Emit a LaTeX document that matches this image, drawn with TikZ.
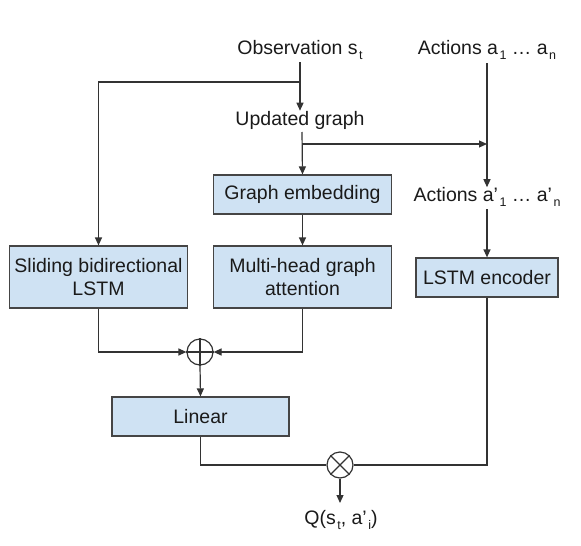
\documentclass[tikz,border=0pt]{standalone}
\usepackage{fontspec}
\setmainfont{Liberation Sans}
\usetikzlibrary{arrows.meta}
\definecolor{boxfill}{HTML}{CFE2F3}
\definecolor{boxline}{HTML}{454545}
\definecolor{linecol}{HTML}{333333}
\definecolor{txt}{HTML}{1A1A1A}
\newcommand{\lowsub}[1]{\kern1.5pt\raisebox{-5pt}{\fontsize{12.5}{12.5}\selectfont #1}}
\begin{document}
\begin{tikzpicture}[x=1pt,y=-1pt,
  every node/.style={font=\fontsize{19.5}{23.5}\selectfont, text=txt},
  blk/.style={draw=boxline, line width=1.2pt, fill=boxfill, align=center, inner sep=0pt},
  lbl/.style={inner sep=0pt, align=center},
  op/.style={circle, draw=linecol, line width=1.2pt, minimum size=26pt, inner sep=0pt, fill=white},
  conn/.style={draw=linecol, line width=1.2pt},
  arr/.style={conn, -{Triangle[length=8pt,width=7pt]}}
]
\useasboundingbox (0,0) rectangle (581,546);

% text labels
\node[lbl] (obs) at (300,50) {Observation s\lowsub{t}};
\node[lbl] (act) at (487,50) {Actions a\lowsub{1} … a\lowsub{n}};
\node[lbl] (upd) at (300,120) {Updated graph};
\node[lbl] (act2) at (487,197) {Actions a’\lowsub{1} … a’\lowsub{n}};
\node[lbl] (q) at (341,520) {Q(s\lowsub{t}, a’\lowsub{i})};

% boxes
\node[blk, minimum width=178pt, minimum height=39pt] (gemb) at (302.5,194.5) {Graph embedding};
\node[blk, minimum width=178pt, minimum height=62pt] (slide) at (98.5,277) {Sliding bidirectional\\LSTM};
\node[blk, minimum width=178pt, minimum height=62pt] (mha) at (302.5,277) {Multi-head graph\\attention};
\node[blk, minimum width=142pt, minimum height=39pt] (lstm) at (487,277.5) {LSTM encoder};
\node[blk, minimum width=177pt, minimum height=39pt] (lin) at (200.5,416.5) {Linear};

% operators
\node[op] (plus) at (200,352) {};
\draw[conn] (plus.north) -- (plus.south) (plus.west) -- (plus.east);
\node[op] (times) at (340,465) {};
\draw[conn] (times.north west) -- (times.south east) (times.north east) -- (times.south west);

% junction coordinates and free ends
\coordinate (o1) at (300,62);
\coordinate (j1) at (300,82);
\coordinate (u1) at (302,132);
\coordinate (j2) at (302,144);
\coordinate (j3) at (487,144);
\coordinate (a1) at (487,63);
\coordinate (a2) at (487,209);
\coordinate (qend) at (340,503);

% connectors
\draw[arr] (o1) -- (upd.north);
\draw[arr] (j1) -| (slide.north);
\draw[arr] (u1) -- (gemb.north);
\draw[arr] (j2) -- (j3);
\draw[arr] (a1) -- (act2.north);
\draw[arr] (gemb.south) -- (mha.north);
\draw[arr] (a2) -- (lstm.north);
\draw[arr] (slide.south) |- (plus.west);
\draw[arr] (mha.south) |- (plus.east);
\draw[arr] (plus.south) -- (lin.north);
\draw[conn] (lin.south) |- (times.west);
\draw[conn] (lstm.south) |- (times.east);
\draw[arr] (times.south) -- (qend);
\end{tikzpicture}
\end{document}
